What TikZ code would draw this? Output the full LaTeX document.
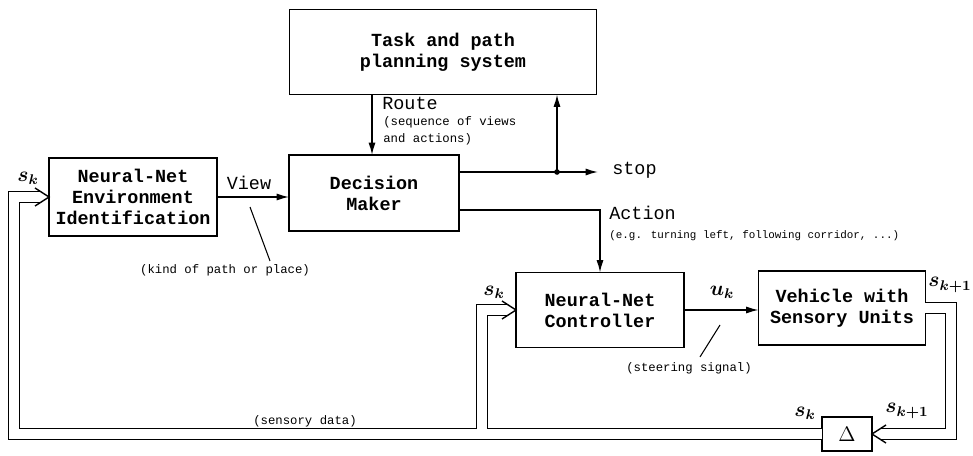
\documentclass[tikz,border=0pt]{standalone}
\usepackage{fontspec}
\usepackage{bm}
\usetikzlibrary{arrows.meta,calc}
\newfontfamily\typer{Liberation Mono}

\tikzset{
  blk/.style={draw, line width=0.8pt, inner sep=0pt, outer sep=0pt, align=center,
    font=\typer\bfseries\fontsize{10.5}{12}\selectfont},
  lbl/.style={font=\typer\fontsize{10.5}{12}\selectfont, inner sep=0pt},
  note/.style={font=\typer\fontsize{7}{10}\selectfont, inner sep=0pt, align=left},
  sym/.style={font=\large, inner sep=0pt},
  sig/.style={line width=0.8pt, -{Latex[length=7pt,width=4pt]}},
  busout/.style={line width=7pt, line join=miter},
  busin/.style={white, line width=5.6pt, line join=miter},
}

% open head at the end of a double line
\newcommand\headR[1]{\draw[line width=0.8pt] ($(#1)+(-14,-9)$) -- (#1) -- ($(#1)+(-14,9)$);}
\newcommand\headL[1]{\draw[line width=0.8pt] ($(#1)+(14,-9)$) -- (#1) -- ($(#1)+(14,9)$);}

\begin{document}
\begin{tikzpicture}[x=0.02cm, y=-0.02cm]
    \useasboundingbox (0,0) rectangle (973,456);

    % blocks
    \node[blk, minimum width=6.14cm, minimum height=1.7cm] (task) at (443,52)
        {Task and path\\planning system};
    \node[blk, minimum width=3.36cm, minimum height=1.56cm] (env) at (133,197)
        {Neural-Net\\Environment\\Identification};
    \node[blk, minimum width=3.4cm, minimum height=1.52cm] (dec) at (374,193)
        {Decision\\Maker};
    \node[blk, minimum width=3.36cm, minimum height=1.5cm] (ctrl) at (600,310)
        {Neural-Net\\Controller};
    \node[blk, minimum width=3.34cm, minimum height=1.48cm] (veh) at (842,308)
        {Vehicle with\\Sensory Units};
    \node[blk, font=\large, minimum width=1cm, minimum height=0.68cm] (delta) at (847,434)
        {$\Delta$};

    % labels
    \node[lbl] (view) at (249,183) {View};
    \node[note] (kind) at (225,270) {(kind of path or place)};
    \node[lbl, anchor=west] (route) at (382,103) {Route};
    \node[note, anchor=north west] (routenote) at (383,116) {(sequence of views\\and actions)};
    \node[lbl, anchor=west] (stop) at (612,170) {stop};
    \node[lbl, anchor=west] (action) at (609,213) {Action};
    \node[note, anchor=west, font=\typer\fontsize{6.2}{8}\selectfont] (eg) at (609,236)
        {(e.g. turning left, following corridor, ...)};
    \node[sym] (uk) at (722,292) {$\bm{u_k}$};
    \node[note] (steer) at (689,368) {(steering signal)};
    \node[note] (sdata) at (305,421) {(sensory data)};

    \node[sym] (s1) at (28,178) {$\bm{s_k}$};
    \node[sym] (s2) at (494,292) {$\bm{s_k}$};
    \node[sym] (s3) at (950,285) {$\bm{s_{k+1}}$};
    \node[sym] (s4) at (805,413) {$\bm{s_k}$};
    \node[sym] (s5) at (907,411) {$\bm{s_{k+1}}$};

    % signal lines
    \draw[sig] (env.east) -- (env.east -| dec.west);

    \coordinate (rx) at (372,0);
    \draw[sig] (task.south -| rx) -- (dec.north -| rx);

    \coordinate (so) at ($(dec.east)+(0,-21)$);
    \coordinate (split) at (557,0);
    \draw[sig, shorten >=8pt] (so) -- (so -| stop.west);
    \draw[sig] (so -| split) -- (task.south -| split);
    \fill (so -| split) circle[radius=1.6pt];

    \draw[sig] ($(dec.east)+(0,17)$) -| (ctrl.north);
    \draw[sig] (ctrl.east) -- (ctrl.east -| veh.west);

    \draw[line width=0.6pt] (250,207) -- ($(kind.north)+(45,-3)$);
    \draw[line width=0.6pt] (720,325) -- ($(steer.north)+(11,-5)$);

    % sensory data lines (double)
    \draw[busout] (delta.west) -| ($(env.west)+(-35,0)$) -- ($(env.west)+(-9,0)$);
    \draw[busout] (delta.west) -| ($(ctrl.west)+(-34,0)$) -- ($(ctrl.west)+(-9,0)$);
    \draw[busout] (veh.east) -| ($(delta.east)+(79,0)$) -- ($(delta.east)+(9,0)$);
    \draw[busin] (delta.west) -| ($(env.west)+(-35,0)$) -- ($(env.west)+(-9,0)$);
    \draw[busin] (delta.west) -| ($(ctrl.west)+(-34,0)$) -- ($(ctrl.west)+(-9,0)$);
    \draw[busin] (veh.east) -| ($(delta.east)+(79,0)$) -- ($(delta.east)+(9,0)$);

    \headR{env.west}
    \headR{ctrl.west}
    \headL{delta.east}

\end{tikzpicture}
\end{document}
